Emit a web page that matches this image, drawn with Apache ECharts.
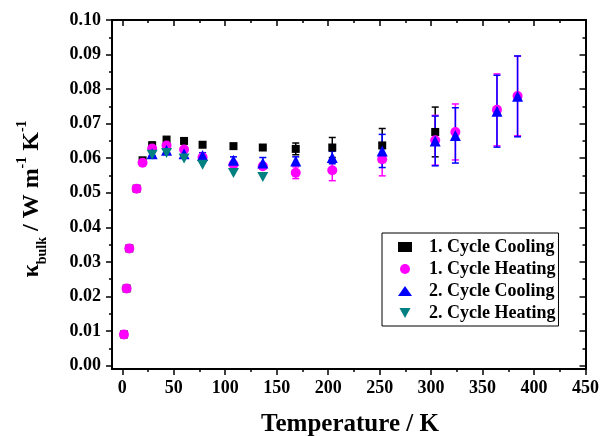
<!DOCTYPE html>
<html>
<head>
<meta charset="utf-8">
<script src="https://cdn.jsdelivr.net/npm/echarts@6/dist/echarts.min.js"></script>
<style>html,body{margin:0;padding:0;background:#fff}#c{width:602px;height:436px}</style>
</head>
<body>
<div id="c"></div>
<script>
// ---- data ----
const names = ['1. Cycle Cooling', '1. Cycle Heating', '2. Cycle Cooling', '2. Cycle Heating'];
const t1c = [1.6, 4.2, 6.8, 13.9, 19.7, 29, 43, 60, 78, 108, 136.5, 168.5, 204, 252.5, 304];
const k1c = [0.0090, 0.0223, 0.0339, 0.0512, 0.0594, 0.0637, 0.0654, 0.0650, 0.0639, 0.0635, 0.0631, 0.0627, 0.0631, 0.0637, 0.0676];
const e1c = [0, 0, 0, 0, 0.0005, 0.0010, 0, 0, 0, 0, 0, 0.0017, 0.0029, 0.0049, 0.0072];
const t1h = [1.6, 4.2, 6.8, 13.9, 19.7, 29, 43, 60, 78, 108, 136.5, 168.5, 204, 252.5, 304, 323.6, 364, 384];
const k1h = [0.0090, 0.0223, 0.0339, 0.0512, 0.0587, 0.0628, 0.0637, 0.0625, 0.0603, 0.0582, 0.0577, 0.0558, 0.0565, 0.0597, 0.0652, 0.0676, 0.0740, 0.0780];
const e1h = [0, 0, 0, 0, 0, 0.0008, 0.0006, 0.0006, 0, 0.0008, 0.0008, 0.0017, 0.0030, 0.0048, 0.0072, 0.0081, 0.0104, 0.0115];
const t2c = [29, 43, 60, 78, 108, 136.5, 168.5, 204, 252.5, 304, 323.6, 364, 384];
const k2c = [0.0613, 0.0623, 0.0613, 0.0608, 0.0594, 0.0586, 0.0592, 0.0602, 0.0621, 0.0650, 0.0666, 0.0736, 0.0779];
const e2c = [0.0006, 0.0006, 0.0007, 0.0008, 0.0010, 0.0016, 0.0012, 0.0018, 0.0048, 0.0072, 0.0080, 0.0104, 0.0117];
const t2h = [29, 43, 60, 78, 108, 136.5];
const k2h = [0.0610, 0.0615, 0.0599, 0.0581, 0.0557, 0.0546];
const xTicks = [0, 50, 100, 150, 200, 250, 300, 350, 400, 450];
const xMinor = [25, 75, 125, 175, 225, 275, 325, 375, 425];
const yTicks = [0, 0.01, 0.02, 0.03, 0.04, 0.05, 0.06, 0.07, 0.08, 0.09, 0.10];
const yMinor = [0.005, 0.015, 0.025, 0.035, 0.045, 0.055, 0.065, 0.075, 0.085, 0.095];

// ---- styling ----
const FONT = "'Liberation Serif', 'Times New Roman', serif";
const colors = ['#000000', '#ff00ff', '#0000ff', '#008080'];
const symbols = ['rect', 'circle', 'triangle', 'path://M0,0 L2,0 L1,1.8 Z'];
const sizes = [8, 10, 11, 11];

function pairs(t, k, e) { return t.map((x, i) => e ? [x, k[i], e[i]] : [x, k[i]]); }

function errSeries(data, color) {
  return {
    type: 'custom', z: 1, silent: true,
    data: data,
    renderItem: function (params, api) {
      const x = api.value(0), y = api.value(1), e = api.value(2);
      if (!e) return null;
      const top = api.coord([x, y + e]), bot = api.coord([x, y - e]);
      const w = 3.5, st = { stroke: color, lineWidth: 1.5 };
      return { type: 'group', children: [
        { type: 'line', shape: { x1: top[0], y1: top[1], x2: bot[0], y2: bot[1] }, style: st },
        { type: 'line', shape: { x1: top[0] - w, y1: top[1], x2: top[0] + w, y2: top[1] }, style: st },
        { type: 'line', shape: { x1: bot[0] - w, y1: bot[1], x2: bot[0] + w, y2: bot[1] }, style: st }
      ]};
    }
  };
}

const axisLine = { show: true, onZero: false, lineStyle: { color: '#000', width: 2 } };
function xa(pos, vals, len, inside, labels) {
  return {
    type: 'value', min: -10, max: 450, position: pos,
    axisLine: axisLine,
    axisTick: { show: true, customValues: vals, length: len, inside: inside, lineStyle: { color: '#000', width: 1.5 } },
    axisLabel: labels ? { show: true, customValues: vals, color: '#000', fontFamily: FONT, fontWeight: 'bold', fontSize: 18, margin: 10 } : { show: false },
    splitLine: { show: false }
  };
}
function ya(pos, vals, len, inside, labels) {
  return {
    type: 'value', min: -0.001, max: 0.1, position: pos,
    axisLine: axisLine,
    axisTick: { show: true, customValues: vals, length: len, inside: inside, lineStyle: { color: '#000', width: 1.5 } },
    axisLabel: labels ? { show: true, customValues: vals, color: '#000', fontFamily: FONT, fontWeight: 'bold', fontSize: 18, margin: 11,
      formatter: v => v.toFixed(2) } : { show: false },
    splitLine: { show: false }
  };
}

const scatter = [
  [t1c, k1c], [t1h, k1h], [t2c, k2c], [t2h, k2h]
].map((d, i) => ({
  name: names[i], type: 'scatter', z: 2 + i,
  symbol: symbols[i], symbolSize: i === 3 ? [11, 10] : sizes[i],
  itemStyle: { color: colors[i], opacity: 1 },
  data: pairs(d[0], d[1])
}));

const option = {
  animation: false,
  grid: { left: 112, right: 15, top: 20, bottom: 67, containLabel: false },
  xAxis: [xa('bottom', xTicks, 6, false, true), xa('bottom', xMinor, 3, false, false),
          xa('top', xTicks, 6, true, false), xa('top', xMinor, 3, true, false)],
  yAxis: [ya('left', yTicks, 6, false, true), ya('left', yMinor, 3, false, false),
          ya('right', yTicks, 6, true, false), ya('right', yMinor, 3, true, false)],
  legend: {
    data: names, orient: 'vertical', left: 382, top: 233,
    itemWidth: 14, itemHeight: 10, itemGap: 4,
    padding: [5, 3, 4, 16],
    borderColor: '#000', borderWidth: 1, backgroundColor: '#fff',
    textStyle: { fontFamily: FONT, fontWeight: 'bold', fontSize: 18, color: '#000', padding: [0, 0, 0, 12] },
    selectedMode: false
  },
  series: [
    errSeries(pairs(t1c, k1c, e1c), colors[0]),
    errSeries(pairs(t1h, k1h, e1h), colors[1]),
    errSeries(pairs(t2c, k2c, e2c), colors[2])
  ].concat(scatter),
  graphic: [
    { type: 'text', x: 350, y: 425, style: { text: 'Temperature / K', font: 'bold 25px ' + FONT, fill: '#000', align: 'center', verticalAlign: 'middle' } },
    { type: 'text', x: 32, y: 199, rotation: Math.PI / 2,
      style: {
        text: '{m|κ}{sub|bulk}{m| / W m}{sup|-1}{m| K}{sup|-1}',
        align: 'center', verticalAlign: 'middle', fill: '#000',
        rich: {
          m: { fontFamily: FONT, fontWeight: 'bold', fontSize: 24, lineHeight: 34, verticalAlign: 'middle', fill: '#000' },
          sub: { fontFamily: FONT, fontWeight: 'bold', fontSize: 14, lineHeight: 34, verticalAlign: 'bottom', fill: '#000' },
          sup: { fontFamily: FONT, fontWeight: 'bold', fontSize: 14, lineHeight: 34, verticalAlign: 'top', fill: '#000' }
        }
      }
    }
  ]
};
const chart = echarts.init(document.getElementById('c'), null, { renderer: 'canvas' });
chart.setOption(option);
</script>
</body>
</html>
